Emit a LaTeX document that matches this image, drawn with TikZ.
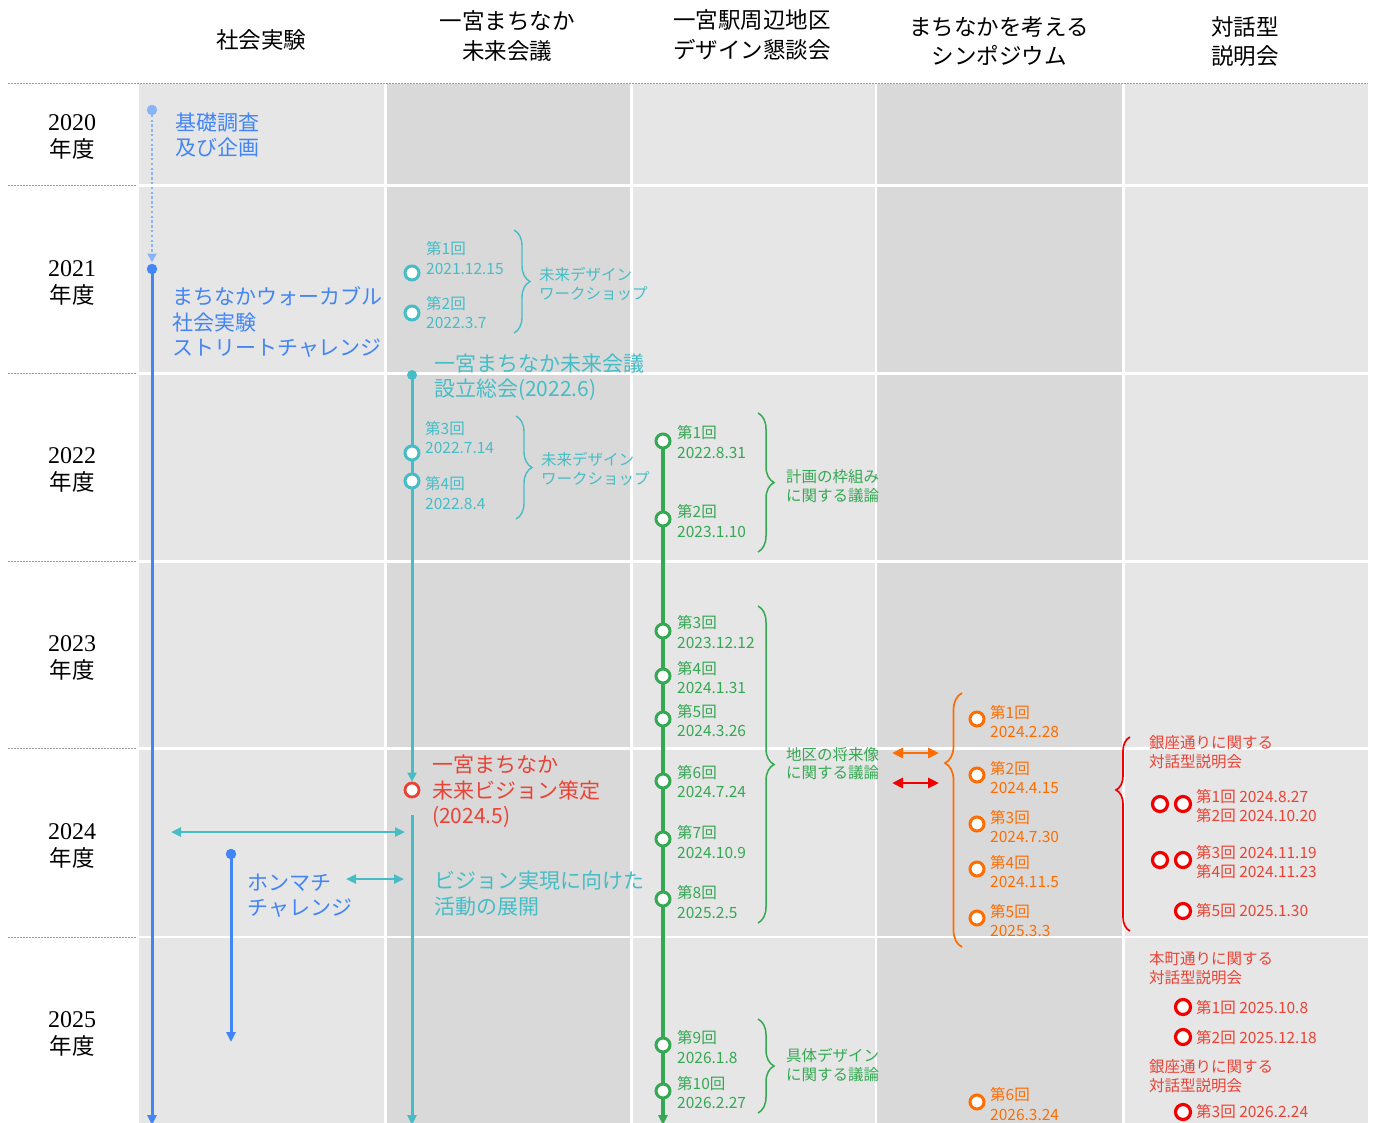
\documentclass[tikz,border=0pt]{standalone}
\usepackage{fontspec}
\newfontfamily\jp{Noto Sans CJK JP}
\newfontfamily\sernum{Liberation Serif}
\usetikzlibrary{arrows.meta,decorations.pathreplacing}
\definecolor{panelL}{HTML}{E6E6E6}
\definecolor{panelD}{HTML}{D9D9D9}
\definecolor{blueA}{HTML}{4285F4}
\definecolor{blueL}{HTML}{8AB4F8}
\definecolor{tealA}{HTML}{46BDC6}
\definecolor{greenA}{HTML}{34A853}
\definecolor{orangeA}{HTML}{FF6D01}
\definecolor{redT}{HTML}{EA4335}
\definecolor{redC}{HTML}{F20000}
\definecolor{dotg}{HTML}{9A9A9A}
\pgfdeclarelayer{panels}
\pgfdeclarelayer{lines}
\pgfsetlayers{panels,lines,main}
\tikzset{
  hdr/.style={font={\jp\fontsize{22.5}{29.5}\selectfont}, align=center, inner sep=0pt},
  yr/.style={font={\sernum\fontsize{24}{27}\selectfont}, align=center, inner sep=0pt},
  big/.style={font={\jp\fontsize{21}{25.5}\selectfont}, align=left, anchor=west, inner sep=0pt},
  lbl/.style={font={\jp\fontsize{15.5}{19.5}\selectfont}, align=left, anchor=west, inner sep=0pt},
  blbl/.style={font={\jp\fontsize{15.5}{18.5}\selectfont}, align=left, anchor=west, inner sep=0pt},
  ring/.style={circle, draw=#1, line width=3pt, fill=white, minimum size=14pt, inner sep=0pt},
  redring/.style={circle, draw=redC, line width=3.2pt, fill=white, minimum size=15pt, inner sep=0pt},
  dotn/.style={circle, fill=#1, draw=none, inner sep=0pt, minimum size=10.5pt},
  sepline/.style={draw=dotg, line width=0.8pt, dash pattern=on 1.5pt off 1.5pt},
  tl/.style={line width=3pt, draw=#1}
}
\begin{document}
\begin{tikzpicture}[x=1pt,y=-1pt]
\useasboundingbox (0,0) rectangle (1375,1122);
\begin{pgfonlayer}{panels}
\fill[white] (0,0) rectangle (1375,1122);
\foreach \ya/\yb in {84/184.3, 186.7/372.3, 374.7/560.3, 562.7/747.3, 749.7/935.8, 938.2/1123} {
  \fill[panelL] (139,\ya) rectangle (383.5,\yb);
  \fill[panelD] (386.5,\ya) rectangle (629.5,\yb);
  \fill[panelL] (632.5,\ya) rectangle (874.5,\yb);
  \fill[panelD] (877,\ya) rectangle (1122,\yb);
  \fill[panelL] (1125,\ya) rectangle (1368,\yb);
}
\draw[sepline] (8,83) -- (1368,83);
\foreach \y in {185.5,373.5,561.5,748.5,937} {
  \draw[sepline] (8,\y) -- (137,\y);
}
\end{pgfonlayer}

% headers
\node[hdr] (h1) at (261,40) {社会実験};
\node[hdr] (h2) at (507,36) {一宮まちなか\\未来会議};
\node[hdr] (h3) at (752,35) {一宮駅周辺地区\\デザイン懇談会};
\node[hdr] (h4) at (999,41) {まちなかを考える\\シンポジウム};
\node[hdr] (h5) at (1245,41.5) {対話型\\説明会};

% years
\node[yr] (y20) at (72,137) {2020\\{\jp\fontsize{22.5}{27}\selectfont 年度}};
\node[yr] (y21) at (72,283) {2021\\{\jp\fontsize{22.5}{27}\selectfont 年度}};
\node[yr] (y22) at (72,470) {2022\\{\jp\fontsize{22.5}{27}\selectfont 年度}};
\node[yr] (y23) at (72,657.5) {2023\\{\jp\fontsize{22.5}{27}\selectfont 年度}};
\node[yr] (y24) at (72,845.5) {2024\\{\jp\fontsize{22.5}{27}\selectfont 年度}};
\node[yr] (y25) at (72,1033.5) {2025\\{\jp\fontsize{22.5}{27}\selectfont 年度}};

% column 1
\node[dotn=blueL] (ld) at (152,110) {};
\node[dotn=blueA] (bd) at (152,269) {};
\node[big, text=blueA] (kiso) at (175,135) {基礎調査\\及び企画};
\node[big, text=blueA] (walk) at (172,322) {まちなかウォーカブル\\社会実験\\ストリートチャレンジ};
\node[dotn=blueA] (hd) at (231,854) {};
\node[big, text=blueA] (honm) at (247,895.5) {ホンマチ\\チャレンジ};
\coordinate (bend) at (152,1125);
\coordinate (hend) at (231,1042);
\coordinate (ta1) at (171,832);
\coordinate (ta2) at (405,832);
\coordinate (tb1) at (346,879);
\coordinate (tb2) at (404,879);

% column 2
\node[ring=tealA] (m1) at (412,273) {};
\node[ring=tealA] (m2) at (412,313) {};
\node[lbl, text=tealA] (m1l) at (426,258) {第1回\\2021.12.15};
\node[lbl, text=tealA] (m2l) at (426,312.5) {第2回\\2022.3.7};
\node[blbl, text=tealA] (mw1) at (539,284) {未来デザイン\\ワークショップ};
\node[dotn=tealA, minimum size=10pt] (sd) at (412,375) {};
\node[big, text=tealA] (setu) at (434,377) {一宮まちなか未来会議\\設立総会(2022.6)};
\node[ring=tealA] (m3) at (412,453) {};
\node[ring=tealA] (m4) at (412,481) {};
\node[lbl, text=tealA] (m3l) at (425,437.5) {第3回\\2022.7.14};
\node[lbl, text=tealA] (m4l) at (425,493) {第4回\\2022.8.4};
\node[blbl, text=tealA] (mw2) at (541,469) {未来デザイン\\ワークショップ};
\node[ring=redT, line width=2.8pt] (vc) at (412,790) {};
\node[big, text=redT] (vis) at (432,791.5) {一宮まちなか\\未来ビジョン策定\\(2024.5)};
\coordinate (vs) at (412,815);
\coordinate (vend) at (412,1125);
\node[big, text=tealA] (act) at (434,893.5) {ビジョン実現に向けた\\活動の展開};

% column 3
\node[ring=greenA] (g1) at (663,441) {};
\node[ring=greenA] (g2) at (663,519) {};
\node[ring=greenA] (g3) at (663,631) {};
\node[ring=greenA] (g4) at (663,676) {};
\node[ring=greenA] (g5) at (663,719) {};
\node[ring=greenA] (g6) at (663,781) {};
\node[ring=greenA] (g7) at (663,839) {};
\node[ring=greenA] (g8) at (663,899) {};
\node[ring=greenA] (g9) at (663,1045) {};
\node[ring=greenA] (g10) at (663,1091) {};
\node[lbl, text=greenA] (g1l) at (677,442) {第1回\\2022.8.31};
\node[lbl, text=greenA] (g2l) at (677,521) {第2回\\2023.1.10};
\node[lbl, text=greenA] (g3l) at (677,632) {第3回\\2023.12.12};
\node[lbl, text=greenA] (g4l) at (677,677.5) {第4回\\2024.1.31};
\node[lbl, text=greenA] (g5l) at (677,720.5) {第5回\\2024.3.26};
\node[lbl, text=greenA] (g6l) at (677,781.5) {第6回\\2024.7.24};
\node[lbl, text=greenA] (g7l) at (677,842) {第7回\\2024.10.9};
\node[lbl, text=greenA] (g8l) at (677,902) {第8回\\2025.2.5};
\node[lbl, text=greenA] (g9l) at (677,1047) {第9回\\2026.1.8};
\node[lbl, text=greenA] (g10l) at (677,1092.5) {第10回\\2026.2.27};
\node[blbl, text=greenA] (gb1) at (786,486) {計画の枠組み\\に関する議論};
\node[blbl, text=greenA] (gb2) at (786,763.5) {地区の将来像\\に関する議論};
\node[blbl, text=greenA] (gb3) at (786,1065) {具体デザイン\\に関する議論};
\coordinate (gend) at (663,1125);

% column 4
\node[ring=orangeA] (o1) at (977,719) {};
\node[ring=orangeA] (o2) at (977,775) {};
\node[ring=orangeA] (o3) at (977,824) {};
\node[ring=orangeA] (o4) at (977,869) {};
\node[ring=orangeA] (o5) at (977,918) {};
\node[ring=orangeA] (o6) at (977,1102) {};
\node[lbl, text=orangeA] (o1l) at (990,721.5) {第1回\\2024.2.28};
\node[lbl, text=orangeA] (o2l) at (990,777.5) {第2回\\2024.4.15};
\node[lbl, text=orangeA] (o3l) at (990,826.5) {第3回\\2024.7.30};
\node[lbl, text=orangeA] (o4l) at (990,871.5) {第4回\\2024.11.5};
\node[lbl, text=orangeA] (o5l) at (990,920.5) {第5回\\2025.3.3};
\node[lbl, text=orangeA] (o6l) at (990,1104) {第6回\\2026.3.24};
\coordinate (oa1) at (892,753);
\coordinate (oa2) at (939,753);
\coordinate (ra1) at (892,783);
\coordinate (ra2) at (939,783);

% column 5
\node[lbl, text=redT] (gz1) at (1149,752) {銀座通りに関する\\対話型説明会};
\node[redring] (r1a) at (1160,804) {};
\node[redring] (r1b) at (1183,804) {};
\node[lbl, text=redT] (r1l) at (1196,806) {第1回 2024.8.27\\第2回 2024.10.20};
\node[redring] (r2a) at (1160,860) {};
\node[redring] (r2b) at (1183,860) {};
\node[lbl, text=redT] (r2l) at (1196,862) {第3回 2024.11.19\\第4回 2024.11.23};
\node[redring] (r5) at (1183,911) {};
\node[lbl, text=redT] (r5l) at (1196,911) {第5回 2025.1.30};
\node[lbl, text=redT] (hm1) at (1149,968) {本町通りに関する\\対話型説明会};
\node[redring] (r6) at (1183,1007) {};
\node[lbl, text=redT] (r6l) at (1196,1008) {第1回 2025.10.8};
\node[redring] (r7) at (1183,1037) {};
\node[lbl, text=redT] (r7l) at (1196,1038) {第2回 2025.12.18};
\node[lbl, text=redT] (gz2) at (1149,1076) {銀座通りに関する\\対話型説明会};
\node[redring] (r8) at (1183,1112) {};
\node[lbl, text=redT] (r8l) at (1196,1112) {第3回 2026.2.24};

% brace end points
\coordinate (bt1a) at (514,230);  \coordinate (bt1b) at (514,333);
\coordinate (bt2a) at (516,416);  \coordinate (bt2b) at (516,519);
\coordinate (bg1a) at (758,413);  \coordinate (bg1b) at (758,552);
\coordinate (bg2a) at (758,606);  \coordinate (bg2b) at (758,923);
\coordinate (bg3a) at (758,1019); \coordinate (bg3b) at (758,1113);
\coordinate (boa) at (962,947);   \coordinate (bob) at (962,693);
\coordinate (bra) at (1130,931);  \coordinate (brb) at (1130,737);

\begin{pgfonlayer}{lines}
% column 1
\draw[blueL, line width=2.4pt, dash pattern=on 2.4pt off 2.4pt, -{Triangle[length=9pt,width=9pt]}, shorten >=1pt] (ld.center) -- (bd.north);
\draw[tl=blueA, -{Triangle[length=10pt,width=9pt]}] (bd.center) -- (bend);
\draw[tl=blueA, -{Triangle[length=10pt,width=9pt]}] (hd.center) -- (hend);
\draw[tealA, line width=2.4pt, {Triangle[length=10pt,width=9pt]}-{Triangle[length=10pt,width=9pt]}] (ta1) -- (ta2);
\draw[tealA, line width=2.4pt, {Triangle[length=10pt,width=9pt]}-{Triangle[length=10pt,width=9pt]}] (tb1) -- (tb2);
% column 2
\draw[tl=tealA, -{Triangle[length=9pt,width=9pt]}] (sd.center) -- (vc.north);
\draw[tl=tealA, -{Triangle[length=10pt,width=9pt]}] (vs) -- (vend);
% column 3
\draw[tl=greenA, line width=3.2pt, -{Triangle[length=10pt,width=9pt]}] (g1.center) -- (gend);
% arrows col 4
\draw[orangeA, line width=2.8pt, {Triangle[length=11pt,width=10pt]}-{Triangle[length=11pt,width=10pt]}] (oa1) -- (oa2);
\draw[redC, line width=2.8pt, {Triangle[length=11pt,width=10pt]}-{Triangle[length=11pt,width=10pt]}] (ra1) -- (ra2);
% braces
\draw[tealA, line width=1.4pt, decorate, decoration={brace, amplitude=16pt, aspect=0.5}] (bt1a) -- (bt1b);
\draw[tealA, line width=1.4pt, decorate, decoration={brace, amplitude=16pt, aspect=0.5}] (bt2a) -- (bt2b);
\draw[greenA, line width=1.5pt, decorate, decoration={brace, amplitude=16pt, aspect=0.5}] (bg1a) -- (bg1b);
\draw[greenA, line width=1.5pt, decorate, decoration={brace, amplitude=16pt, aspect=0.5}] (bg2a) -- (bg2b);
\draw[greenA, line width=1.5pt, decorate, decoration={brace, amplitude=16pt, aspect=0.5}] (bg3a) -- (bg3b);
\draw[orangeA, line width=1.7pt, decorate, decoration={brace, amplitude=17pt, aspect=0.724}] (boa) -- (bob);
\draw[redC, line width=1.7pt, decorate, decoration={brace, amplitude=14pt, aspect=0.727}] (bra) -- (brb);
\end{pgfonlayer}
\end{tikzpicture}
\end{document}
